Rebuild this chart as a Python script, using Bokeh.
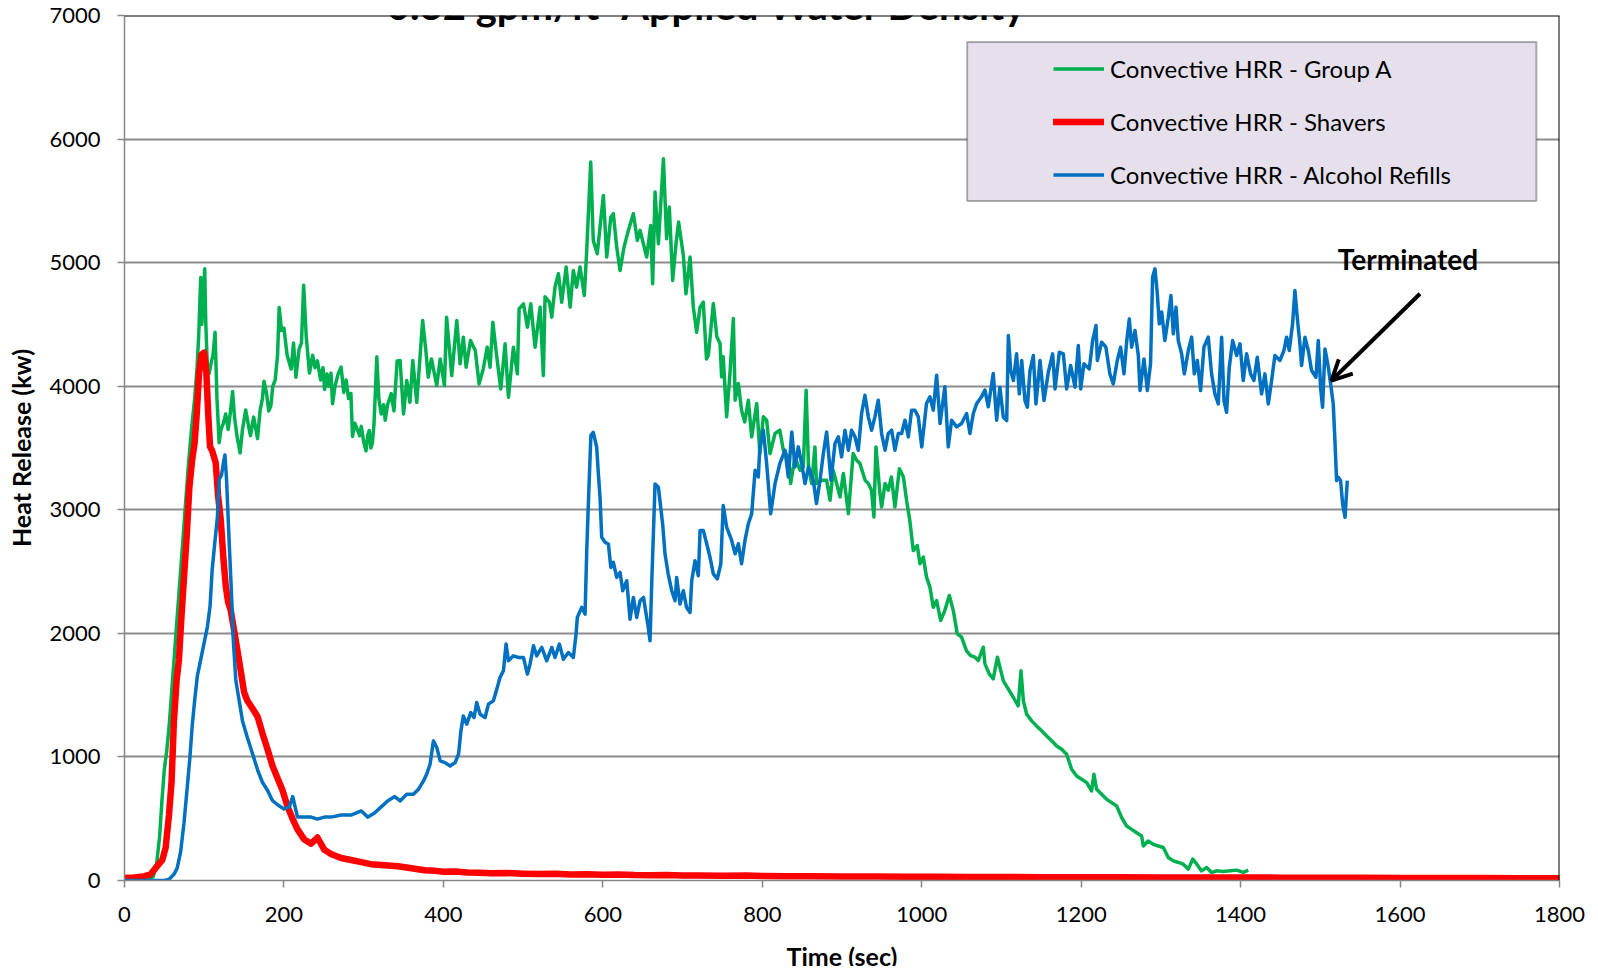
from bokeh.plotting import figure
from bokeh.layouts import column
from bokeh.models import (Range1d, FixedTicker, Span, Legend, LegendItem,
                          BoxAnnotation, Label, Arrow, OpenHead)
from bokeh.core.properties import value
from bokeh.embed import file_html
from bokeh.resources import INLINE

# ---------------- data ----------------
TITLE = "0.32 gpm/ft² Applied Water Density"
X_LABEL = "Time (sec)"
Y_LABEL = "Heat Release (kw)"
X_TICKS = [0, 200, 400, 600, 800, 1000, 1200, 1400, 1600, 1800]
Y_TICKS = [0, 1000, 2000, 3000, 4000, 5000, 6000, 7000]
SERIES_NAMES = ["Convective HRR - Group A", "Convective HRR - Shavers",
                "Convective HRR - Alcohol Refills"]
NOTE_TEXT = "Terminated"

GROUP_A_T = [
    0, 30, 36, 40, 44, 47, 50, 53, 56, 60, 64, 68, 72, 76, 80, 84, 88, 91, 93, 95.6,
    97, 98.5, 100.6, 102, 104, 106, 109, 111, 113.6, 116, 118.7, 121, 124, 127, 130,
    133, 135.6, 138, 141, 145, 148, 152, 155, 158, 162, 166.9, 170, 173, 175, 178,
    181, 183.6, 186, 189, 192, 194, 197, 200, 204, 209, 212, 215, 219, 222, 224.7,
    228, 232, 236, 239, 242, 246, 249, 251, 254, 256, 259, 261, 264, 268, 271.7,
    275, 278, 281, 284, 286, 289, 292, 295, 297, 300, 303, 305, 307, 309, 311, 313,
    316.5, 319, 322, 325, 327, 330, 334.6, 338, 342,
    345.7, 350, 354, 358, 361.6, 366.6, 374, 378, 381, 385, 391.7, 396, 401.3, 404,
    410.5, 416.8, 421, 425, 428.5, 434, 440, 444.8, 450, 455, 458.6, 462, 467, 472,
    477.4, 481.6, 487.8, 492.8, 495, 500.4, 505.4, 509.6, 515, 521.3, 525.4, 527.5,
    533, 536, 540, 544.3, 548.4, 554, 559, 563, 567, 571.4, 576.8, 579.8, 584.8,
    588, 593, 596.5, 600.7, 604.9, 610, 613.2, 617.4, 621.6, 626.6, 632, 638.3,
    643.3, 646.7, 655, 660, 662.5, 665.5, 669.7, 676, 680, 683.4, 687.6, 691.8, 695,
    701, 704.3, 709.4, 713.5, 717.7, 722, 726, 730,
    732.4, 738.6, 743, 747, 749, 751, 755.3, 759.5, 763.7, 766, 770, 774, 778,
    782.5, 786.7, 793, 797, 801.3, 805.5, 809.7, 816, 822, 826.4, 832.7, 835.6, 841,
    847.3, 851.5, 855, 858, 862, 866, 868, 874.5, 880.7, 885, 889, 893.3, 897.5,
    901.7, 908, 914, 918.4, 922.5, 929, 933, 937, 940, 942.6, 947.6, 949.7, 954,
    958, 962, 966.4, 972, 977, 981, 985,
    989.4, 994.4, 997.8, 1002, 1006, 1010.3, 1014.5, 1018.7, 1023.7, 1029, 1034.6,
    1039.6, 1044.6, 1050, 1056, 1061.3, 1066.8, 1071, 1077.2, 1079.3, 1084.7,
    1089.7, 1095,
    1102.4, 1108.7, 1115, 1121, 1124.5, 1127.5, 1131.6, 1137.9, 1144, 1150.5,
    1156.7, 1163, 1169.3, 1175.5, 1181.8, 1188, 1194.3, 1200.6, 1207, 1213, 1216,
    1219.4, 1225.7, 1232, 1238.2, 1244.5, 1250.8, 1257, 1263.3, 1269.6, 1275.8,
    1278, 1284, 1290.5, 1296.8, 1303, 1309.3, 1315.6, 1322, 1328, 1334.4, 1340,
    1345, 1351, 1357.4, 1363.6, 1370, 1378.3, 1386.6, 1395, 1403.4, 1409.6]
GROUP_A_V = [
    0, 5, 30, 120, 350, 650, 900, 1050, 1250, 1600, 1950, 2300, 2650, 3000, 3350,
    3650, 3900, 4150, 4400, 4880, 4500, 4700, 4950, 4500, 4150, 4100, 4200, 4250,
    4437, 3900, 3543, 3650, 3700, 3775, 3650, 3800, 3957, 3750, 3600, 3460, 3650,
    3808, 3700, 3600, 3750, 3576, 3800, 3900, 4040, 3950, 3800, 3841, 4000, 4050,
    4250, 4636, 4450, 4470, 4250, 4139, 4350, 4073, 4300, 4350, 4818, 4400, 4106,
    4250, 4150, 4205, 4050, 4150, 3974, 4100, 4000, 4106, 3858, 4000, 4100, 4155,
    3950, 4050, 3900, 3940, 3593, 3700, 3650, 3600, 3675, 3550, 3477, 3600, 3642,
    3500, 3543, 3700, 4238, 3900, 3775, 3850, 3725, 3850, 3940, 3800, 4205,
    4208, 3776, 4046, 3870, 4208, 3870, 4532, 4289, 4073, 4221, 4005, 4221, 4005,
    4559, 4086, 4532, 4181, 4397, 4154, 4370, 4289, 4019, 4140, 4316, 4154, 4518,
    4235, 3978, 4343, 3911, 4316, 4100, 4626, 4667, 4478, 4667, 4316, 4640, 4086,
    4724, 4680, 4559, 4802, 4910, 4680, 4964, 4640, 4937, 4802, 4964, 4734, 5099,
    5814, 5180, 5072, 5288, 5544, 5045, 5369, 5396, 5126, 4937, 5126, 5261, 5396,
    5180, 5261, 5045, 5301, 4829, 5571, 5153, 5841, 5193, 5450, 4856, 5153, 5328,
    5058, 4748, 5045, 4640, 4437, 4640, 4680, 4221,
    4251, 4670, 4400, 4346, 4076, 4238, 3752, 4103, 4548, 3887, 4022, 3806, 3711,
    3887, 3590, 3860, 3455, 3752, 3725, 3455, 3617, 3644, 3482, 3428, 3212, 3428,
    3320, 3347, 3968, 3347, 3212, 3509, 3212, 3239, 3239, 3077, 3320, 3212, 3104,
    3293, 2969, 3455, 3401, 3374, 3239, 3212, 3158, 2942, 3509, 3131, 3023, 3212,
    3158, 3266, 3023, 3333, 3266, 3077, 2915,
    2670, 2711, 2563, 2617, 2455, 2374, 2212, 2266, 2104, 2185, 2306, 2185, 1996,
    1969, 1861, 1820, 1807, 1780, 1888, 1753, 1672, 1631, 1807,
    1616, 1548, 1481, 1413, 1697, 1454, 1346, 1292, 1251, 1211, 1170, 1130, 1089,
    1062, 1022, 900, 846, 819, 792, 725, 860, 738, 698, 657, 630, 603, 509, 441,
    414, 387, 360, 279, 320, 293, 279, 267, 186, 159, 146, 132, 92, 173, 132, 78,
    105, 65, 78, 73, 78, 84, 65, 84]

SHAVERS_T = [
    0, 12, 24, 32.7, 41, 47.4, 51.6, 55.8, 59, 62, 65.4, 68.3, 71.3, 74.6, 78, 81.3,
    85, 88, 90.6, 93.5, 96.4, 99.8, 102.7, 105, 107.3, 110, 114.5, 117.4, 120.8, 124,
    127, 130, 133.3, 136.7, 141, 146, 150, 154, 160.6, 167, 173, 179.5, 185.7, 192,
    198.3, 204.6, 211, 217, 225.6, 234, 242, 250.7, 259, 271.7, 284, 297, 309, 326,
    343, 360, 376.5, 390, 400, 415, 430, 445, 460, 480, 500, 520, 540, 560, 580, 600,
    620, 640, 660, 680, 700, 720, 750, 780, 800, 830, 860, 900, 940, 980, 1020, 1060,
    1100, 1150, 1200, 1250, 1300, 1350, 1400, 1450, 1500, 1550, 1600, 1650, 1700,
    1750, 1800]
SHAVERS_V = [
    20, 25, 33, 50, 116, 166, 265, 530, 795, 1291, 1623, 1788, 2119, 2450, 2781, 3179,
    3411, 3543, 3775, 4106, 4255, 4272, 4106, 3775, 3510, 3477, 3377, 3113, 2914, 2616,
    2384, 2252, 2185, 2053, 1887, 1689, 1523, 1457, 1391, 1325, 1192, 1060, 927, 828,
    728, 596, 497, 414, 331, 298, 348, 248, 215, 182, 166, 149, 132, 123, 116, 99, 83,
    78, 70, 72, 64, 62, 58, 60, 55, 52, 54, 48, 50, 46, 48, 44, 43, 45, 40, 41, 38,
    40, 36, 34, 35, 32, 33, 30, 30, 28, 29, 27, 26, 27, 25, 24, 25, 23, 22, 22, 21,
    20, 20, 19, 18]

REFILLS_T = [
    0, 50, 56, 62, 66, 70.4, 74.6, 78.8, 82, 85, 88, 91.4, 95.6, 99.8, 104, 107.3,
    110, 113, 116.6, 118.7, 121.6, 124, 126, 128, 131, 134, 136.7, 139.6, 143.8, 148,
    154, 160.6, 167, 173, 179.5, 185.7, 192, 200, 206.7, 211, 217, 225.6, 234, 242,
    250.7, 259, 271.7, 284, 297, 305.3, 313.6, 322, 330.4, 339,
    345.7, 354, 362.4, 368.7, 375, 379, 383.3, 387.5, 391.7, 396, 402, 408.4, 414.7,
    419, 422, 425, 429.3, 434.3, 438.5, 441.8, 446, 452.3, 456.5, 462.7, 467, 471,
    475.3, 478.6, 481.6, 487.8, 494, 500.4, 505.4, 508.7, 513, 517, 523.4, 529.6,
    536, 540, 545.5, 550.5, 556.8, 563, 566.4, 568, 573.5, 577.7, 579.8, 582, 585,
    588, 592.3, 594.4, 596.5, 598.6, 603, 607, 610, 613.2, 617.4, 621.6, 625, 630,
    634.1, 638.3, 642.5, 646.7, 651, 655, 657, 659.2, 661.3, 663.4, 665.5, 669.7,
    672.6, 675, 678, 682, 686.4, 690.6, 692.6, 696.8, 701, 705, 709.4, 711.5, 715.6,
    719.8,
    722, 726, 730.3, 734.4, 738.6, 743.6, 748, 751, 755.3, 761.6, 766, 770, 774,
    778.3, 782.5, 786.7, 791, 795, 797, 801.3, 805.5, 810.5, 816, 822, 828.5, 832.7,
    837, 841, 845.2, 849.4, 853.6, 858, 864, 868, 872.4, 876.6, 880.7, 886.2, 891.2,
    895.4, 899.5, 903.7, 908, 912, 916.3, 920.4, 924.6, 928.8, 933, 937.2, 941.3,
    945.5, 949.7, 954, 958, 962.3, 966.4, 970.6, 974.8, 979, 983.2, 987.3, 991.5,
    995.7, 1000, 1006, 1010.3, 1014.5, 1018.7, 1023, 1029, 1033.3, 1037.5, 1043.8,
    1050, 1056.3, 1060.5, 1064.7, 1069, 1075, 1079.3, 1083.5, 1089.7, 1094,
    1098, 1102.4, 1106.6, 1108.7, 1111.6, 1115, 1119, 1122.4, 1125.4, 1129.5, 1132.5,
    1135.8, 1140, 1143.3, 1148.4, 1153.4, 1158.8, 1164.2, 1167.2, 1172.6, 1177.6,
    1181.8, 1186.8, 1192.3, 1196.4, 1199.4, 1203.5, 1210.2, 1214.4, 1218.6, 1220.3,
    1225.7, 1231, 1236, 1240.3, 1245.3, 1249.5, 1253.7, 1257, 1260.4, 1263.3, 1267.5,
    1271.7, 1273.8, 1278.8, 1283, 1287, 1289.6, 1292.6, 1295.5, 1298, 1301, 1305,
    1309.3, 1312.6, 1315.6, 1319, 1321.8, 1326, 1329.4, 1334.4, 1338.6, 1341.9,
    1345.7, 1349.8, 1354, 1359.4, 1363.6, 1367.8, 1372, 1376.2, 1379.1, 1382.4,
    1385.8, 1390, 1395, 1399.2, 1403.3, 1407.5, 1412.5, 1416.7, 1420.9, 1426.3,
    1430.5, 1434.7, 1438.9, 1443, 1449.3, 1454.3, 1457.7, 1461, 1465.2, 1468.1, 1471,
    1474.4, 1476.5, 1480.7, 1484.9, 1489, 1494.5, 1497.4, 1500.3, 1502.8, 1505.8,
    1510, 1512.9, 1516.2, 1518.3, 1520.4, 1522.5, 1525.4, 1528, 1531, 1533.8]
REFILLS_V = [
    0, 0, 10, 50, 99, 232, 464, 762, 993, 1258, 1457, 1656, 1788, 1921, 2053, 2219,
    2517, 2715, 2947, 3245, 3278, 3377, 3444, 3245, 2781, 2351, 1921, 1623, 1457,
    1291, 1159, 1026, 894, 795, 728, 646, 613, 579, 596, 679, 513, 513, 513, 497,
    513, 513, 530, 530, 563, 513, 546, 596, 646, 679,
    644, 698, 698, 738, 806, 860, 941, 1130, 1076, 968, 954, 927, 954, 1022, 1211,
    1332, 1265, 1359, 1319, 1440, 1346, 1319, 1427, 1454, 1548, 1643, 1697, 1913,
    1778, 1818, 1805, 1805, 1670, 1751, 1900, 1818, 1886, 1778, 1886, 1805, 1913,
    1791, 1845, 1805, 1994, 2129, 2210, 2156, 2669, 3074, 3600, 3627, 3506, 3290,
    3100, 2777, 2736, 2723, 2534, 2574, 2453, 2493, 2345, 2426, 2115, 2291, 2129,
    2264, 2291, 2129, 2048, 1940, 2399, 2804, 3209, 3182, 3020, 2885, 2642, 2480,
    2345, 2264, 2453, 2237, 2345, 2210, 2169, 2426, 2588, 2466,
    2833, 2833, 2725, 2617, 2482, 2441, 2563, 3035, 2860, 2752, 2644, 2725, 2563,
    2752, 2887, 2968, 3319, 3265, 3509, 3644, 3374, 2968, 3212, 3374, 3482, 3266,
    3630, 3347, 3509, 3374, 3212, 3347, 3239, 3050, 3239, 3455, 3630, 3239, 3536,
    3590, 3428, 3644, 3482, 3644, 3590, 3482, 3779, 3927, 3752, 3644, 3752, 3887,
    3617, 3482, 3617, 3644, 3482, 3617, 3617, 3725, 3590, 3806, 3806, 3752, 3509,
    3860, 3914, 3806, 4089, 3698, 3995, 3509, 3725, 3671, 3698, 3779, 3617, 3779,
    3860, 3914, 3968, 3833, 4103, 3725,
    3992, 3749, 3722, 4410, 4127, 4046, 4262, 3938, 4208, 3884, 3830, 4127, 4248,
    3857, 4208, 3884, 4113, 4262, 3978, 4275, 4262, 3978, 4167, 3992, 4329, 3978,
    4181, 4140, 4370, 4491, 4208, 4356, 4316, 4100, 4019, 4208, 4316, 4100, 4356,
    4545, 4316, 4451, 4248, 3965, 4221, 3965, 4181, 4883, 4950, 4748, 4505, 4600,
    4370, 4559, 4734, 4424, 4640, 4370, 4262, 4100, 4289, 4397, 4100, 4208, 3965,
    4316, 4397, 4100, 3938, 3857, 4397, 3884, 3789, 4154, 4370, 4248, 4343, 4046,
    4262, 4100, 4046, 4235, 3938, 4100, 3857, 4046, 4248, 4208, 4289, 4397, 4289,
    4505, 4775, 4559, 4343, 4167, 4397, 4289, 4127, 4073, 4370, 3992, 3830, 4302,
    4154, 4019, 3857, 3560, 3236, 3263, 3236, 3047, 2939, 3236]

# annotation anchor values (time, kW)
NOTE_AT = (1610, 5026)
ARROW_FROM = (1625, 4748)
ARROW_TO = (1514, 4046)

GREEN = "#00b050"
RED = "#ff0000"
BLUE = "#0070c0"
GOLD = "#f2b231"
FONT = "Lato"

W = 1598
MAIN_H = 936
BOT_H = 30      # strip holding the x-axis title
RULE_H = 2      # thin gold rule along the page bottom
LEFT_B, RIGHT_B = 124, 39

# ---------------- main figure ----------------
p = figure(width=W, height=MAIN_H, output_backend="svg", toolbar_location=None,
           x_range=Range1d(X_TICKS[0], X_TICKS[-1]),
           y_range=Range1d(Y_TICKS[0], Y_TICKS[-1]),
           min_border_left=LEFT_B, min_border_right=RIGHT_B,
           min_border_top=15, min_border_bottom=56)
p.outline_line_color = None
p.background_fill_color = "white"
p.border_fill_color = "white"

p.xgrid.grid_line_color = None
p.ygrid.grid_line_color = "#8c8c8c"
p.ygrid.grid_line_width = 2

p.xaxis.ticker = FixedTicker(ticks=X_TICKS)
p.yaxis.ticker = FixedTicker(ticks=Y_TICKS)
p.xaxis.major_label_overrides = {t: str(t) for t in X_TICKS}
p.yaxis.major_label_overrides = {t: str(t) for t in Y_TICKS}
for ax in (p.xaxis, p.yaxis):
    ax.axis_line_color = "#868686"
    ax.axis_line_width = 1.5
    ax.major_tick_line_color = "#868686"
    ax.major_tick_line_width = 1.5
    ax.major_tick_out = 7
    ax.major_tick_in = 0
    ax.minor_tick_line_color = None
    ax.major_label_text_font = FONT
    ax.major_label_text_font_size = "22px"
    ax.major_label_text_color = "black"
p.xaxis.major_label_standoff = 19
p.yaxis.major_label_standoff = 17
p.yaxis.axis_label = Y_LABEL
p.yaxis.axis_label_text_font = FONT
p.yaxis.axis_label_text_font_style = "bold"
p.yaxis.axis_label_text_font_size = "25px"
p.yaxis.axis_label_text_color = "black"
p.yaxis.axis_label_standoff = 10

g = p.line(GROUP_A_T, GROUP_A_V, line_color=GREEN, line_width=3.5, line_join="round")
r = p.line(SHAVERS_T, SHAVERS_V, line_color=RED, line_width=6.5, line_join="round",
           line_cap="round")
b = p.line(REFILLS_T, REFILLS_V, line_color=BLUE, line_width=3.5, line_join="round")

# frame top / right border
p.add_layout(Span(location=Y_TICKS[-1], dimension="width", line_color="black", line_width=2))
p.add_layout(Span(location=X_TICKS[-1], dimension="height", line_color="black", line_width=2))

# legend box + legend
p.add_layout(BoxAnnotation(left=1057, right=1771, bottom=5498, top=6786,
                           fill_color="#e6e0ec", fill_alpha=1,
                           line_color="black", line_width=2))
legend = Legend(items=[LegendItem(label=SERIES_NAMES[0], renderers=[g]),
                       LegendItem(label=SERIES_NAMES[1], renderers=[r]),
                       LegendItem(label=SERIES_NAMES[2], renderers=[b])],
                location=(929, 679), padding=0, margin=0, spacing=0,
                glyph_width=51, glyph_height=53, label_height=53, label_standoff=6,
                label_text_font=FONT, label_text_font_size="24px",
                label_text_color="black",
                background_fill_alpha=0, border_line_color=None)
p.add_layout(legend)

# "Terminated" note and arrow
p.add_layout(Label(x=NOTE_AT[0], y=NOTE_AT[1], text=NOTE_TEXT, text_font=FONT,
                   text_font_style="bold", text_font_size="28px", text_color="black",
                   text_align="center", text_baseline="middle"))
p.add_layout(Arrow(end=OpenHead(size=20, line_width=4, line_color="black"),
                   x_start=ARROW_FROM[0], y_start=ARROW_FROM[1],
                   x_end=ARROW_TO[0], y_end=ARROW_TO[1],
                   line_width=4, line_color="black"))

# chart title: only its lower part lies inside the page, as in the source
p.add_layout(Label(x=731, y=7081, text=TITLE, text_font=FONT, text_font_style="bold",
                   text_font_size="40px", text_color="black", text_align="center",
                   text_baseline="alphabetic"))

# ---------------- x-axis title strip (shares the time axis) ----------------
bot = figure(width=W, height=BOT_H, output_backend="svg", toolbar_location=None,
             x_range=p.x_range, y_range=Range1d(0, BOT_H),
             x_axis_type=None, y_axis_type=None,
             min_border_left=LEFT_B, min_border_right=RIGHT_B,
             min_border_top=0, min_border_bottom=0)
bot.outline_line_color = None
bot.background_fill_color = "white"
bot.border_fill_color = "white"
bot.text(x=[900], y=[BOT_H - 19], text=[X_LABEL], text_font=value(FONT),
         text_font_style="bold", text_font_size="25px", text_color="black",
         text_align="center", text_baseline="middle")

# ---------------- thin gold rule at the bottom of the page ----------------
rule = figure(width=W, height=RULE_H, output_backend="svg", toolbar_location=None,
              x_range=p.x_range, y_range=Range1d(0, 1),
              x_axis_type=None, y_axis_type=None,
              min_border_left=LEFT_B, min_border_right=RIGHT_B,
              min_border_top=0, min_border_bottom=0)
rule.outline_line_color = None
rule.background_fill_color = GOLD
rule.border_fill_color = GOLD

layout = column(p, bot, rule, spacing=0)
open("out.html", "w").write(file_html(layout, INLINE))
